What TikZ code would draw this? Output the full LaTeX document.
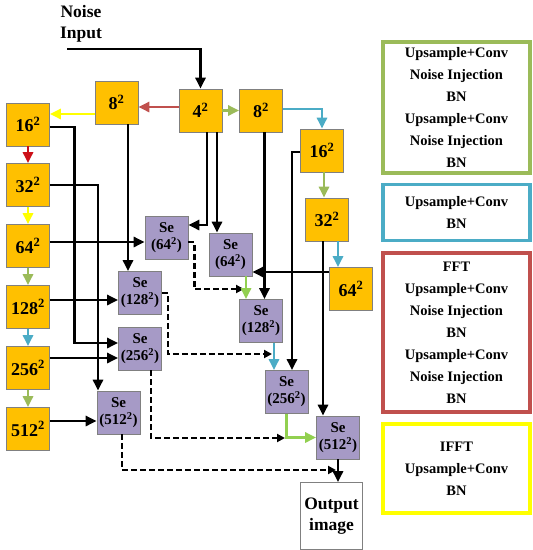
\documentclass[tikz,border=0pt]{standalone}
\usepackage{fontspec}
\setmainfont{Liberation Serif}
\usetikzlibrary{arrows.meta}
\definecolor{boxorange}{RGB}{255,192,0}
\definecolor{boxpurple}{RGB}{166,154,198}
\definecolor{edgegray}{RGB}{128,128,128}
\definecolor{upred}{RGB}{192,80,77}
\definecolor{fftred}{RGB}{204,16,24}
\definecolor{upyellow}{RGB}{255,255,0}
\definecolor{upolive}{RGB}{155,187,89}
\definecolor{upblue}{RGB}{75,172,198}
\definecolor{upgreen}{RGB}{146,208,80}
\newcommand{\resq}[1]{#1\textsuperscript{2}}
\tikzset{
    >={Triangle[length=11pt,width=10pt]},
    res/.style={
        draw=edgegray, line width=0.7pt,
        fill=boxorange,
        minimum size=43pt, inner sep=0pt,
        font=\bfseries\fontsize{18}{20}\selectfont
    },
    se/.style={
        draw=edgegray, line width=0.7pt,
        fill=boxpurple,
        minimum size=43pt, inner sep=0pt, align=center,
        font=\bfseries\fontsize{15}{17}\selectfont
    },
    flow/.style={->, line width=2.8pt},
    skip/.style={->, line width=2.5pt, dash pattern=on 6pt off 3pt,
        >={Triangle[length=8pt,width=8pt]}},
    legend/.style={line width=3.2pt, minimum width=147pt, inner sep=0pt,
        align=center, font=\bfseries\fontsize{14.5}{22}\selectfont},
}

\begin{document}
\begin{tikzpicture}[x=1pt, y=-1pt]
    \useasboundingbox (0,0) rectangle (533,550);

    \node[align=center, inner sep=0pt, font=\bfseries\fontsize{17.5}{21}\selectfont]
        (noise) at (81,24) {Noise\\Input};
    \coordinate (nin) at (67,49);

    % generator branch
    \node[res] (c4)   at (200.5,110.5) {\resq{4}};
    \node[res] (l8)   at (116.5,102.5) {\resq{8}};
    \node[res] (l16)  at (28,124.5)    {\resq{16}};
    \node[res] (l32)  at (28,185)      {\resq{32}};
    \node[res] (l64)  at (28,246)      {\resq{64}};
    \node[res] (l128) at (28,307)      {\resq{128}};
    \node[res] (l256) at (28,368)      {\resq{256}};
    \node[res] (l512) at (28,429)      {\resq{512}};
    \node[res] (r8)   at (261,110.5)   {\resq{8}};
    \node[res] (r16)  at (322,150.5)   {\resq{16}};
    \node[res] (r32)  at (327,219.5)   {\resq{32}};
    \node[res] (r64)  at (351,289)     {\resq{64}};

    % Se blocks
    \node[se] (sa)    at (166.5,237.5) {Se\\(\resq{64})};
    \node[se] (sb)    at (230.5,254.5) {Se\\(\resq{64})};
    \node[se] (sl128) at (140,293)     {Se\\(\resq{128})};
    \node[se] (sl256) at (140,348.5)   {Se\\(\resq{256})};
    \node[se] (sl512) at (118.5,412.5) {Se\\(\resq{512})};
    \node[se] (sr128) at (261,321)     {Se\\(\resq{128})};
    \node[se] (sr256) at (286.5,392)   {Se\\(\resq{256})};
    \node[se] (sr512) at (338,437.5)   {Se\\(\resq{512})};

    \node[draw=edgegray, line width=0.7pt, minimum width=62pt, minimum height=67pt,
          inner sep=0pt, align=center, font=\bfseries\fontsize{17.5}{21}\selectfont]
        (out) at (331.5,516) {Output\\image};

    % legend
    \node[legend, draw=upolive, minimum height=131pt] (lgup) at (456.5,107.5)
        {Upsample+Conv\\Noise Injection\\BN\\Upsample+Conv\\Noise Injection\\BN};
    \node[legend, draw=upblue, minimum height=56pt] (lgbn) at (456.5,212.5)
        {Upsample+Conv\\BN};
    \node[legend, draw=upred, minimum height=159pt] (lgfft) at (456.5,332.5)
        {FFT\\Upsample+Conv\\Noise Injection\\BN\\Upsample+Conv\\Noise Injection\\BN};
    \node[legend, draw=upyellow, minimum height=89pt] (lgifft) at (456.5,468.5)
        {IFFT\\Upsample+Conv\\BN};

    % skip joins
    \coordinate (m1) at (244,289);
    \coordinate (m2) at (272,354);
    \coordinate (m3) at (285,438);
    \coordinate (m4) at (336,470);

    \draw[skip] ([yshift=-4.5pt]sa.east) -- ++(6,0) |- (m1);
    \draw[skip] (sl128.east) -- ++(6,0) |- (m2);
    \draw[skip] ([xshift=11pt]sl256.south) |- (m3);
    \draw[skip] ([xshift=3.5pt]sl512.south) |- (m4);

    % black links
    \draw[flow] (nin) -| (c4.north);
    \draw[flow] ([yshift=-2.5pt]l16.east) -- ++(25,0) |- ([yshift=5.5pt]sl256.west);
    \draw[flow] (l32.east) -| ([xshift=-20.5pt]sl512.north);
    \draw[flow] ([yshift=4pt]l64.east) -- ([yshift=4pt]l64.east -| sa.west);
    \draw[flow] ([yshift=7pt]l128.east) -- ([yshift=7pt]l128.east -| sl128.west);
    \draw[flow] ([yshift=10pt]l256.east) -- ([yshift=10pt]l256.east -| sl256.west);
    \draw[flow] ([yshift=8pt]l512.east) -- ([yshift=8pt]l512.east -| sl512.west);
    \draw[flow] ([xshift=11.5pt]l8.south) -- ([xshift=11.5pt]l8.south |- sl128.north);
    \draw[flow] ([xshift=6.5pt]c4.south) |- ([yshift=12.5pt]sa.east);
    \draw[flow] ([xshift=16.5pt]c4.south) -- ([xshift=16.5pt]c4.south |- sb.north);
    \draw[flow] ([xshift=3.5pt]r8.south) -- ([xshift=3.5pt]r8.south |- sr128.north);
    \draw[flow] ([yshift=-1.5pt]r16.west) -| ([xshift=5.5pt]sr256.north);
    \draw[flow] ([xshift=-4pt]r32.south) -- ([xshift=-4pt]r32.south |- sr512.north);
    \draw[flow] ([yshift=17pt]r64.west) -- ([yshift=17pt]r64.west -| sb.east);

    % coloured links
    \draw[flow, upred]    ([yshift=3.5pt]c4.west) -- ([yshift=3.5pt]c4.west -| l8.east);
    \draw[flow, upyellow] ([yshift=-11.5pt]l8.west) -- ([yshift=-11.5pt]l8.west -| l16.east);
    \draw[flow, fftred]   (l16) -- (l32);
    \draw[flow, upyellow] (l32) -- (l64);
    \draw[flow, upolive]  (l64) -- (l128);
    \draw[flow, upblue]   (l128) -- (l256);
    \draw[flow, upolive]  (l256) -- (l512);
    \draw[flow, upolive]  (c4) -- (r8);
    \draw[flow, upblue]   ([yshift=1.5pt]r8.east) -| (r16.north);
    \draw[flow, upolive]  ([xshift=2pt]r16.south) -- ([xshift=2pt]r16.south |- r32.north);
    \draw[flow, upblue]   ([xshift=11pt]r32.south) -- ([xshift=11pt]r32.south |- r64.north);
    \draw[flow, upgreen]  ([xshift=15.5pt]sb.south) -- ([xshift=15.5pt]sb.south |- sr128.north);
    \draw[flow, upblue]   ([xshift=13pt]sr128.south) -- ([xshift=13pt]sr128.south |- sr256.north);
    \draw[flow, upgreen]  (sr256.south) |- (sr512.west);
    \draw[flow]           (sr512.south) -- (sr512.south |- out.north);
\end{tikzpicture}
\end{document}
